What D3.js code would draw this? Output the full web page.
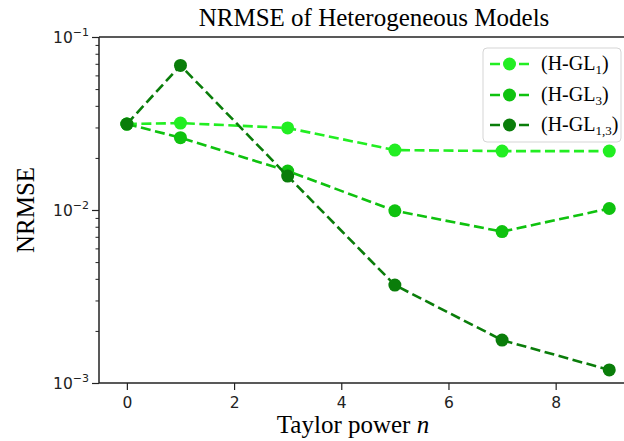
<!DOCTYPE html>
<html lang="en">
<head>
    <meta charset="UTF-8">
    <title>NRMSE</title>
    <script src="https://d3js.org/d3.v7.min.js"></script>
    <style>
        body { margin: 0; background: #fff; }
        .serif { font-family: "Liberation Serif", "Times New Roman", serif; }
        .tick text { font-family: "DejaVu Sans", sans-serif; font-size: 15.5px; fill: #222; }
    </style>
</head>
<body>
<svg width="624" height="441"></svg>
<script>
    // data
    const powers = [0, 1, 3, 5, 7, 9];
    const hgl1 = [0.0314, 0.0318, 0.0298, 0.0222, 0.0219, 0.0219];
    const hgl3 = [0.0314, 0.0262, 0.0168, 0.0099, 0.0075, 0.0102];
    const hgl13 = [0.0314, 0.0685, 0.0157, 0.00368, 0.00177, 0.00119];
    const seriesNames = ["H-GL", "H-GL", "H-GL"];
    const seriesSubs = ["1", "3", "1,3"];
    const xTicks = [0, 2, 4, 6, 8];
    const yTicks = [1e-3, 1e-2, 1e-1];
    const yTickExp = ["−3", "−2", "−1"];

    const colors = ["#22ee22", "#0fc20f", "#0a7d0a"];
    const series = [hgl1, hgl3, hgl13];

    const width = 624;
    const height = 441;
    const margin = {top: 37, right: -26, bottom: 58, left: 99};
    const svg = d3.select('svg');

    const x = d3.scaleLinear()
        .domain([-0.52, 9.76])
        .range([margin.left, width - margin.right]);
    const y = d3.scaleLog()
        .domain([1e-3, 1e-1])
        .range([height - margin.bottom, margin.top]);

    // axes
    const minor = [];
    [1e-3, 1e-2].forEach(function(d) {
        for (let k = 2; k < 10; k++) minor.push(d * k);
    });

    svg.append("g")
        .attr("transform", `translate(${margin.left},0)`)
        .call(d3.axisLeft(y).tickValues(minor).tickSize(3.5).tickFormat(""))
        .call(g => g.select(".domain").remove())
        .selectAll("line").attr("stroke", "#222").attr("stroke-width", 1);

    const yAxis = svg.append("g")
        .attr("transform", `translate(${margin.left},0)`)
        .call(d3.axisLeft(y).tickValues(yTicks).tickSize(7).tickPadding(5).tickFormat(""));
    yAxis.select(".domain").remove();
    yAxis.selectAll(".tick line").attr("stroke", "#222").attr("stroke-width", 1.2);
    yAxis.selectAll(".tick").each(function(d, i) {
        const t = d3.select(this).append("text")
            .attr("x", -10).attr("dy", "0.35em")
            .attr("text-anchor", "end");
        t.append("tspan").text("10");
        t.append("tspan").attr("dy", "-0.6em").style("font-size", "11px").text(yTickExp[i]);
    });

    const xAxis = svg.append("g")
        .attr("transform", `translate(0,${height - margin.bottom})`)
        .call(d3.axisBottom(x).tickValues(xTicks).tickSize(7).tickPadding(7));
    xAxis.select(".domain").remove();
    xAxis.selectAll(".tick line").attr("stroke", "#222").attr("stroke-width", 1.2);

    // spines
    svg.append("line")
        .attr("x1", margin.left).attr("x2", margin.left)
        .attr("y1", margin.top).attr("y2", height - margin.bottom)
        .attr("stroke", "#222").attr("stroke-width", 1.5);
    svg.append("line")
        .attr("x1", margin.left).attr("x2", width)
        .attr("y1", height - margin.bottom).attr("y2", height - margin.bottom)
        .attr("stroke", "#222").attr("stroke-width", 1.5);
    svg.append("line")
        .attr("x1", margin.left).attr("x2", width)
        .attr("y1", margin.top).attr("y2", margin.top)
        .attr("stroke", "#222").attr("stroke-width", 1.5);

    // lines
    const line = d3.line()
        .x((d, i) => x(powers[i]))
        .y(d => y(d));

    series.forEach(function(s, k) {
        svg.append("path")
            .attr("d", line(s))
            .attr("fill", "none")
            .attr("stroke", colors[k])
            .attr("stroke-width", 2.6)
            .attr("stroke-dasharray", "10,4.5");
        svg.selectAll(null)
            .data(s).enter()
            .append("circle")
            .attr("cx", (d, i) => x(powers[i]))
            .attr("cy", d => y(d))
            .attr("r", 6.5)
            .attr("fill", colors[k]);
    });

    // title & labels
    svg.append("text").attr("class", "serif")
        .attr("x", 374).attr("y", 26)
        .attr("text-anchor", "middle")
        .style("font-size", "25px")
        .text("NRMSE of Heterogeneous Models");

    svg.append("text").attr("class", "serif")
        .attr("transform", "translate(34,210) rotate(-90)")
        .attr("text-anchor", "middle")
        .style("font-size", "25px")
        .text("NRMSE");

    const xl = svg.append("text").attr("class", "serif")
        .attr("x", 353).attr("y", 433)
        .attr("text-anchor", "middle")
        .style("font-size", "25px");
    xl.append("tspan").text("Taylor power ");
    xl.append("tspan").style("font-style", "italic").text("n");

    // legend
    const legend = svg.append("g");
    legend.append("rect")
        .attr("x", 483).attr("y", 48)
        .attr("width", 138).attr("height", 94)
        .attr("rx", 4)
        .attr("fill", "#fff").attr("fill-opacity", 0.8)
        .attr("stroke", "#d5d5d5");
    const entryY = [64, 95, 125];
    seriesNames.forEach(function(name, k) {
        const g = legend.append("g").attr("transform", `translate(0,${entryY[k]})`);
        g.append("line")
            .attr("x1", 490).attr("x2", 529)
            .attr("stroke", colors[k]).attr("stroke-width", 2.6)
            .attr("stroke-dasharray", "10,4.5");
        g.append("circle").attr("cx", 509.5).attr("r", 6.5).attr("fill", colors[k]);
        const t = g.append("text").attr("class", "serif")
            .attr("x", 541).attr("dy", "0.32em")
            .style("font-size", "20px");
        t.append("tspan").text("(" + name);
        t.append("tspan").attr("dy", "0.3em").style("font-size", "13px").text(seriesSubs[k]);
        t.append("tspan").attr("dy", "-0.2em").text(")");
    });
</script>
</body>
</html>
